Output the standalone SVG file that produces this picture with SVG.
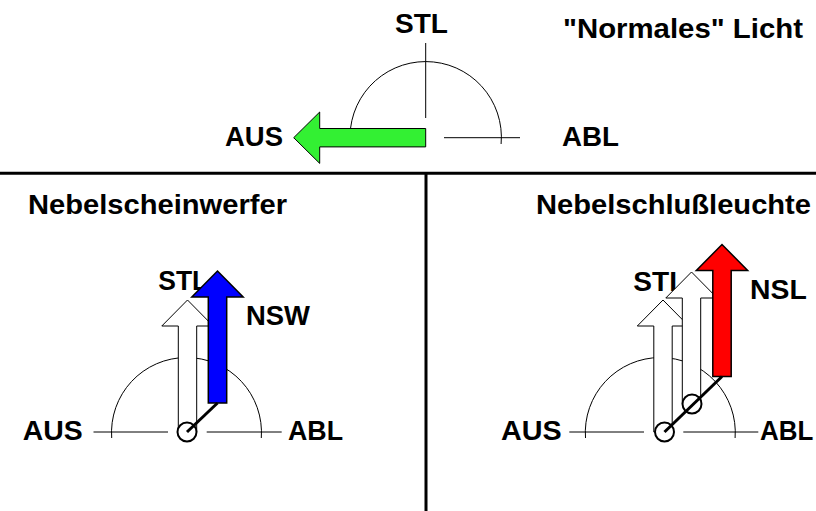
<svg xmlns="http://www.w3.org/2000/svg" xmlns:xlink="http://www.w3.org/1999/xlink" width="816" height="511" viewBox="0 0 816 511">
  <style>
    text { font-family: "Liberation Sans", Arial, sans-serif; font-weight: bold; fill: #000; font-size: 28px; }
    .thin { fill: none; stroke: #000; stroke-width: 1; }
    .divider { stroke: #000; stroke-width: 3; fill: none; }
    .lever-white { fill: #fff; stroke: #000; stroke-width: 1; }
    .lever-green { fill: #33f033; stroke: #000; stroke-width: 1; }
    .lever-blue { fill: #0000ff; stroke: #000; stroke-width: 1.5; }
    .lever-red { fill: #ff0000; stroke: #000; stroke-width: 1.5; }
    .pivot { fill: #fff; stroke: #000; stroke-width: 2; }
    .link { stroke: #000; stroke-width: 3; fill: none; }
  </style>
  <defs>
    <!-- lever arrow, origin at the pivot end, pointing up -->
    <path id="lever" d="M -9.2 0 V -106 H -25.7 L 0 -132 L 25.7 -106 H 9.2 V 0 Z"/>
  </defs>

  <rect width="816" height="511" fill="#fff"/>

  <!-- panel dividers -->
  <g id="dividers">
    <line class="divider" x1="0" y1="173.3" x2="816" y2="173.3"/>
    <line class="divider" x1="426" y1="173" x2="426" y2="511"/>
  </g>

  <!-- top panel: normal light switch -->
  <g id="panel-normal">
    <text x="395" y="33.3" textLength="53" lengthAdjust="spacingAndGlyphs">STL</text>
    <text x="563" y="38" textLength="240" lengthAdjust="spacingAndGlyphs">"Normales" Licht</text>
    <text x="225" y="146" textLength="58" lengthAdjust="spacingAndGlyphs">AUS</text>
    <text x="562" y="146" textLength="57" lengthAdjust="spacingAndGlyphs">ABL</text>
    <path class="thin" d="M 350.3 144 A 75.7 75.7 0 1 1 501.1 144"/>
    <line class="thin" x1="425.7" y1="43" x2="425.7" y2="118"/>
    <line class="thin" x1="444" y1="137.7" x2="520" y2="137.7"/>
    <use xlink:href="#lever" class="lever-green" transform="translate(425.7 137.7) rotate(-90)"/>
  </g>

  <!-- bottom left panel: fog lamps -->
  <g id="panel-nsw">
    <text x="28" y="213.5" textLength="259" lengthAdjust="spacingAndGlyphs">Nebelscheinwerfer</text>
    <path class="thin" d="M 111.7 438 A 75 75 0 1 1 261.3 438"/>
    <line class="thin" x1="93.5" y1="432" x2="168" y2="432"/>
    <line class="thin" x1="206.7" y1="432" x2="281.7" y2="432"/>
    <text x="22.7" y="440" textLength="60" lengthAdjust="spacingAndGlyphs">AUS</text>
    <text x="288" y="440" textLength="55" lengthAdjust="spacingAndGlyphs">ABL</text>
    <text x="158.3" y="290" textLength="50" lengthAdjust="spacingAndGlyphs">STL</text>
    <text x="246" y="324.5" textLength="64" lengthAdjust="spacingAndGlyphs">NSW</text>
    <use xlink:href="#lever" class="lever-white" transform="translate(187.5 432)"/>
    <use xlink:href="#lever" class="lever-blue" transform="translate(217.5 403)"/>
    <circle class="pivot" cx="187" cy="432" r="9.5"/>
  </g>

  <!-- bottom right panel: rear fog lamp -->
  <g id="panel-nsl">
    <text x="536" y="213.5" textLength="275" lengthAdjust="spacingAndGlyphs">Nebelschlußleuchte</text>
    <path class="thin" d="M 585.5 438 A 75 75 0 1 1 735.1 438"/>
    <line class="thin" x1="569.3" y1="432" x2="644" y2="432"/>
    <line class="thin" x1="683.3" y1="432" x2="758.3" y2="432"/>
    <text x="501" y="440" textLength="60.7" lengthAdjust="spacingAndGlyphs">AUS</text>
    <text x="760" y="440" textLength="53.3" lengthAdjust="spacingAndGlyphs">ABL</text>
    <text x="633.3" y="291" textLength="53" lengthAdjust="spacingAndGlyphs">STL</text>
    <text x="750" y="299" textLength="56.7" lengthAdjust="spacingAndGlyphs">NSL</text>
    <use xlink:href="#lever" class="lever-white" transform="translate(663 432)"/>
    <use xlink:href="#lever" class="lever-white" transform="translate(691.5 404)"/>
    <use xlink:href="#lever" class="lever-red" transform="translate(722 376.5)"/>
    <circle class="pivot" cx="664.5" cy="432" r="9.5"/>
    <circle class="pivot" cx="692" cy="404" r="9.5"/>
  </g>

  <!-- lever linkages -->
  <g id="connectors">
    <line class="link" x1="187" y1="432" x2="217.5" y2="403"/>
    <line class="link" x1="664.5" y1="432" x2="722" y2="376.5"/>
  </g>
</svg>
